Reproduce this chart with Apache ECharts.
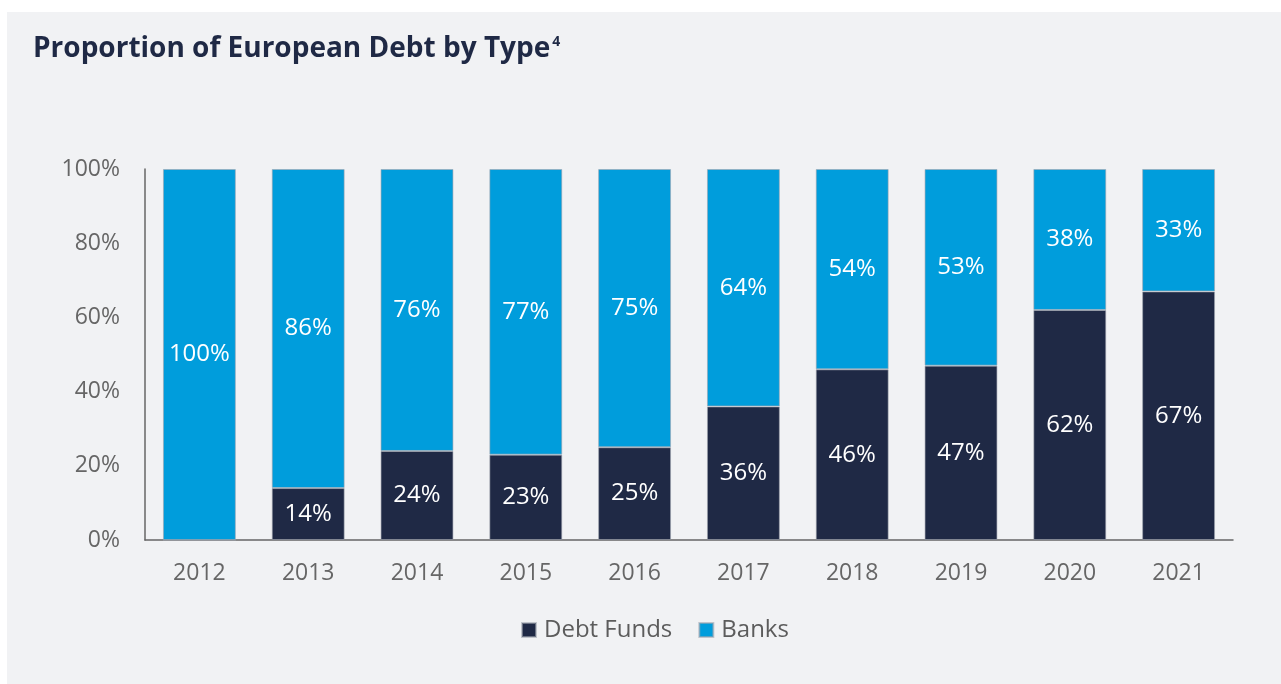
<!DOCTYPE html>
<html>
<head>
<meta charset="utf-8">
<script src="https://cdn.jsdelivr.net/npm/echarts@6/dist/echarts.min.js"></script>
<style>
  html, body { margin: 0; padding: 0; background: #ffffff; }
  #chart { width: 1281px; height: 684px; }
</style>
</head>
<body>
<div id="chart"></div>
<script>
// Share of European debt provision by lender type, per year (%)
const years = ['2012', '2013', '2014', '2015', '2016', '2017', '2018', '2019', '2020', '2021'];
const debtFunds = [0, 14, 24, 23, 25, 36, 46, 47, 62, 67];
const banks = [100, 86, 76, 77, 75, 64, 54, 53, 38, 33];
const yTicks = [0, 20, 40, 60, 80, 100];

const NAVY = '#1f2945';
const BLUE = '#009ddc';
const AXIS_GREY = '#666666';
const FONT = '"Open Sans", "Noto Sans", sans-serif';

const chart = echarts.init(document.getElementById('chart'));

const barLabel = {
  show: true,
  position: 'inside',
  color: '#ffffff',
  fontSize: 24,
  fontFamily: FONT,
  formatter: p => (p.value > 0 ? p.value + '%' : '')
};

chart.setOption({
  backgroundColor: '#ffffff',
  animation: false,
  textStyle: { fontFamily: FONT },
  graphic: [
    {
      type: 'rect',
      z: -10,
      silent: true,
      shape: { x: 7, y: 12, width: 1274, height: 672 },
      style: { fill: '#f1f2f4' }
    }
  ],
  title: {
    text: 'Proportion of European Debt by Type{sup|4}',
    left: 28,
    top: 30,
    textStyle: {
      fontFamily: FONT,
      fontSize: 28,
      fontWeight: 'bold',
      color: NAVY,
      rich: {
        sup: {
          fontFamily: FONT,
          fontSize: 14,
          fontWeight: 'bold',
          color: NAVY,
          verticalAlign: 'top',
          padding: [0, 0, 12, 2]
        }
      }
    }
  },
  legend: {
    data: ['Debt Funds', 'Banks'],
    bottom: 37,
    left: 516,
    icon: 'rect',
    itemWidth: 14,
    itemHeight: 14,
    itemGap: 26,
    textStyle: {
      color: '#5c5c5c',
      fontSize: 24,
      fontFamily: FONT,
      padding: [0, 0, 0, 3]
    }
  },
  grid: {
    left: 145,
    right: 48,
    top: 169,
    bottom: 144,
    containLabel: false
  },
  xAxis: {
    type: 'category',
    data: years,
    axisLine: { show: true, lineStyle: { color: AXIS_GREY, width: 1.5 } },
    axisTick: { show: false },
    axisLabel: {
      color: AXIS_GREY,
      fontSize: 23,
      fontFamily: FONT,
      margin: 22
    }
  },
  yAxis: {
    type: 'value',
    min: yTicks[0],
    max: yTicks[yTicks.length - 1],
    interval: yTicks[1] - yTicks[0],
    axisLine: { show: true, lineStyle: { color: AXIS_GREY, width: 1.5 } },
    axisTick: { show: false },
    splitLine: { show: false },
    axisLabel: {
      color: AXIS_GREY,
      fontSize: 23,
      fontFamily: FONT,
      margin: 25,
      formatter: '{value}%'
    }
  },
  series: [
    {
      name: 'Debt Funds',
      type: 'bar',
      stack: 'share',
      barWidth: '67%',
      data: debtFunds,
      itemStyle: { color: NAVY, borderColor: 'rgba(160,165,175,0.6)', borderWidth: 1 },
      label: barLabel
    },
    {
      name: 'Banks',
      type: 'bar',
      stack: 'share',
      barWidth: '67%',
      data: banks,
      itemStyle: { color: BLUE, borderColor: 'rgba(160,165,175,0.6)', borderWidth: 1 },
      label: barLabel
    }
  ]
});
</script>
</body>
</html>
